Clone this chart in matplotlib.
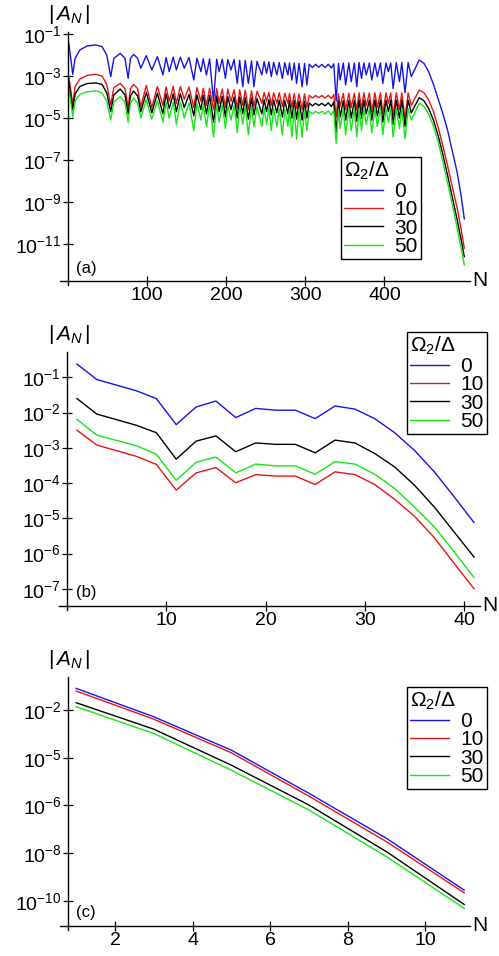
import numpy as np
import matplotlib
matplotlib.use('Agg')
import matplotlib.pyplot as plt

plt.rcParams['font.family'] = ['Liberation Sans', 'DejaVu Sans']
plt.rcParams['mathtext.fontset'] = 'custom'
plt.rcParams['mathtext.rm'] = 'Liberation Sans'
plt.rcParams['mathtext.it'] = 'Liberation Sans:italic'
plt.rcParams['mathtext.bf'] = 'Liberation Sans:bold'

W, H = 499, 956

series_labels = ['0', '10', '30', '50']
series_colors = ['#1515e6', '#e61515', '#000000', '#15e615']

# ---------------- panel (a): log10|A_N| ----------------
n_a = [1, 6, 9, 15, 24, 35, 43, 49, 54, 58, 66, 72, 76, 79, 83, 88, 92, 99, 106, 113,
       120, 124, 128, 133, 137, 142, 147, 153, 159, 163, 168, 171, 175, 179, 184, 188, 191, 195, 199, 202,
       206, 210, 214, 217, 221, 224, 228, 232, 235, 239,
       245, 248, 251, 254, 257, 260, 264, 267, 271, 274, 278, 280, 283, 286, 289, 292, 296, 299, 302, 305,
       309, 313, 317, 321, 325, 329, 333, 336, 339, 342, 344, 348, 351, 355, 358, 362, 365, 368,
       371, 374, 377, 381, 384, 388, 391, 395, 398, 402, 405, 408, 411, 415, 419, 422, 426, 430, 434,
       444, 450, 456, 462, 468, 474, 480, 486, 492, 497, 501]

loga_0 = [-1.44, -2.92, -2.16, -1.76, -1.57, -1.52, -1.60, -2.00, -3.03, -2.16, -1.92, -2.16, -3.11, -2.16, -1.97, -2.16, -2.63, -2.03, -2.71, -2.08,
          -2.95, -2.12, -2.79, -2.10, -2.71, -2.10, -2.63, -2.12, -3.19, -2.15, -2.79, -2.18, -2.95, -2.18, -4.20, -2.20, -2.79, -2.20, -3.11, -2.22,
          -2.71, -2.22, -3.35, -2.25, -3.51, -2.25, -3.35, -2.28, -3.51, -2.30,
          -2.95, -2.32, -2.87, -2.33, -3.03, -2.35, -2.95, -2.36, -3.11, -2.37, -2.95, -2.38, -3.19, -2.38, -3.35, -2.40, -3.51, -2.40, -3.43, -2.44,
          -2.60, -2.44, -2.58, -2.45, -2.60, -2.44, -2.62, -2.42, -4.20, -2.40, -3.19, -2.38, -3.43, -2.38, -3.27, -2.38, -3.51, -2.36,
          -3.11, -2.38, -2.95, -2.38, -3.19, -2.38, -3.03, -2.38, -3.35, -2.38, -2.79, -2.38, -3.60, -2.36, -3.27, -2.36, -3.80, -2.36, -3.03,
          -2.24, -2.40, -2.80, -3.40, -4.10, -4.80, -5.60, -6.60, -7.60, -8.70, -9.80]

loga_10 = [-3.03, -4.35, -3.50, -3.15, -2.97, -2.92, -3.00, -3.40, -4.38, -3.55, -3.35, -3.60, -4.50, -3.60, -3.40, -3.60, -4.45, -3.45, -4.50, -3.50,
           -4.40, -3.52, -4.20, -3.50, -4.30, -3.50, -4.10, -3.52, -4.50, -3.55, -4.20, -3.58, -4.40, -3.58, -4.60, -3.60, -4.30, -3.62, -4.50, -3.62,
           -4.20, -3.65, -4.55, -3.65, -4.40, -3.68, -4.60, -3.70, -4.45, -3.72,
           -4.30, -3.78, -4.20, -3.78, -4.40, -3.80, -4.30, -3.80, -4.45, -3.82, -4.30, -3.82, -4.50, -3.83, -4.55, -3.85, -4.60, -3.85, -4.50, -3.92,
           -4.05, -3.93, -4.03, -3.93, -4.05, -3.92, -4.08, -3.88, -4.95, -3.85, -4.45, -3.83, -4.60, -3.82, -4.50, -3.82, -4.65, -3.80,
           -4.60, -3.80, -4.40, -3.80, -4.70, -3.80, -4.50, -3.80, -4.80, -3.80, -4.30, -3.80, -4.90, -3.80, -4.60, -3.80, -5.00, -3.80, -4.40,
           -3.67, -3.80, -4.15, -4.70, -5.45, -6.35, -7.30, -8.30, -9.30, -10.30, -11.20]

loga_30 = [-3.27, -4.62, -3.85, -3.50, -3.36, -3.33, -3.40, -3.80, -4.70, -3.90, -3.62, -3.90, -4.80, -3.95, -3.72, -3.95, -4.70, -3.78, -4.75, -3.82,
           -4.80, -3.85, -4.55, -3.85, -4.70, -3.85, -4.50, -3.88, -4.90, -3.90, -4.60, -3.92, -4.80, -3.93, -5.20, -3.95, -4.70, -3.97, -4.95, -3.98,
           -4.60, -4.00, -5.00, -4.00, -4.80, -4.03, -5.05, -4.05, -4.85, -4.07,
           -4.80, -4.13, -4.70, -4.13, -4.85, -4.15, -4.75, -4.15, -4.95, -4.17, -4.80, -4.17, -5.00, -4.18, -5.05, -4.20, -5.10, -4.20, -5.00, -4.28,
           -4.42, -4.30, -4.40, -4.30, -4.42, -4.28, -4.45, -4.24, -5.70, -4.20, -4.95, -4.18, -5.10, -4.17, -5.00, -4.17, -5.15, -4.15,
           -5.00, -4.15, -4.80, -4.15, -5.10, -4.15, -4.90, -4.15, -5.20, -4.15, -4.70, -4.15, -5.30, -4.15, -5.00, -4.15, -5.40, -4.15, -4.75,
           -4.03, -4.18, -4.55, -5.10, -5.85, -6.75, -7.75, -8.80, -9.85, -10.80, -11.60]

loga_50 = [-3.59, -4.95, -4.20, -3.88, -3.75, -3.71, -3.80, -4.20, -5.10, -4.25, -3.98, -4.25, -5.20, -4.30, -4.05, -4.30, -5.00, -4.12, -5.05, -4.18,
           -5.20, -4.25, -5.00, -4.25, -5.30, -4.25, -5.00, -4.28, -5.60, -4.30, -5.10, -4.32, -5.40, -4.33, -5.90, -4.35, -5.20, -4.37, -5.50, -4.38,
           -5.10, -4.40, -5.70, -4.40, -5.30, -4.43, -5.80, -4.45, -5.40, -4.47,
           -5.40, -4.52, -5.30, -4.52, -5.60, -4.55, -5.40, -4.55, -5.80, -4.57, -5.40, -4.57, -5.90, -4.58, -6.00, -4.60, -5.90, -4.60, -5.60, -4.66,
           -4.80, -4.68, -4.78, -4.68, -4.80, -4.66, -4.85, -4.62, -6.20, -4.58, -5.50, -4.57, -5.80, -4.56, -5.60, -4.56, -5.90, -4.54,
           -5.60, -4.55, -5.30, -4.55, -5.70, -4.55, -5.40, -4.55, -5.80, -4.55, -5.20, -4.55, -5.90, -4.55, -5.50, -4.55, -6.00, -4.55, -5.10,
           -4.30, -4.45, -4.82, -5.38, -6.15, -7.08, -8.10, -9.15, -10.25, -11.20, -12.00]

# ---------------- panel (b) ----------------
n_b = [1, 3, 5, 7, 9, 11, 13, 15, 17, 19, 21, 23, 25, 27, 29, 31, 33, 35, 37, 39, 41]
logb_0 = [-0.62, -1.06, -1.22, -1.38, -1.60, -2.34, -1.84, -1.67, -2.14, -1.88, -1.93,
          -1.93, -2.17, -1.81, -1.90, -2.17, -2.57, -3.07, -3.68, -4.39, -5.12]
logb_10 = [-2.50, -2.92, -3.08, -3.24, -3.47, -4.20, -3.71, -3.56, -3.99, -3.76, -3.80,
           -3.80, -4.04, -3.68, -3.76, -4.04, -4.46, -4.94, -5.55, -6.28, -7.00]
logb_30 = [-1.60, -2.04, -2.20, -2.36, -2.57, -3.32, -2.81, -2.66, -3.11, -2.86, -2.90,
           -2.90, -3.14, -2.78, -2.86, -3.16, -3.54, -4.06, -4.68, -5.39, -6.10]
logb_50 = [-2.19, -2.64, -2.79, -2.94, -3.18, -3.92, -3.41, -3.26, -3.71, -3.46, -3.51,
           -3.51, -3.75, -3.39, -3.46, -3.75, -4.15, -4.68, -5.24, -5.95, -6.68]

# ---------------- panel (c) ----------------
n_c = [1, 3, 5, 7, 9, 11]
logc_0 = [-1.09, -2.28, -3.68, -5.49, -7.38, -9.55]
logc_10 = [-1.20, -2.38, -3.79, -5.61, -7.52, -9.66]
logc_30 = [-1.69, -2.80, -4.31, -5.98, -7.94, -10.15]
logc_50 = [-1.86, -2.98, -4.52, -6.19, -8.15, -10.31]

# tick values / labels as printed
xt_a = [100, 200, 300, 400]
yt_a = [-1, -3, -5, -7, -9, -11]
xt_b = [10, 20, 30, 40]
yt_b = [-1, -2, -3, -4, -5, -6, -7]
xt_c = [2, 4, 6, 8, 10]
yt_c = [-2, -4, -6, -8, -10]
ytl_c = ['-2', '-5', '-6', '-8', '-10']


def fx(px):
    return px / W


def fy(py):
    return 1 - py / H


def panel(box, xlim, ylim, n, logs, xt, yt, ytl, tag, leg_xy):
    left, right, top, bottom = box
    ax = fig.add_axes([fx(left), fy(bottom), (right - left) / W, (bottom - top) / H])
    for lg, c, lab in zip(logs, series_colors, series_labels):
        ax.plot(n, np.power(10.0, lg), color=c, lw=1.0, label=lab)
    ax.set_yscale('log')
    ax.set_xlim(*xlim)
    ax.set_ylim(10.0 ** ylim[0], 10.0 ** ylim[1])
    ax.set_xticks(xt)
    ax.set_xticklabels([str(v) for v in xt])
    ax.set_yticks([10.0 ** v for v in yt])
    ax.set_yticklabels([r'$10^{%s}$' % s for s in ytl])
    ax.minorticks_off()
    ax.yaxis.set_minor_locator(matplotlib.ticker.NullLocator())
    ax.tick_params(direction='inout', length=7, width=0.9, labelsize=14, pad=1,
                   top=False, right=False)
    for s in ax.spines.values():
        s.set_visible(False)
    ax.patch.set_visible(False)
    # axis lines that cross at the origin
    w = right - left
    h = bottom - top
    ax.plot([0, 0], [-4.0 / h, 1], transform=ax.transAxes, color='black', lw=1.0, clip_on=False)
    ax.plot([-8.0 / w, 1], [0, 0], transform=ax.transAxes, color='black', lw=1.0, clip_on=False)
    fig.text(fx(right + 10), fy(bottom), 'N', fontsize=15, ha='center', va='center')
    fig.text(fx(69), fy(top - 17), r'$|\,A_N\,|$', fontsize=15, ha='center', va='center')
    fig.text(fx(76), fy(bottom - 13), tag, fontsize=12, ha='left', va='center')
    leg = ax.legend(loc='upper left', bbox_to_anchor=(fx(leg_xy[0]), fy(leg_xy[1])),
                    bbox_transform=fig.transFigure, title=r'$\Omega_2/\Delta$',
                    fontsize=15, title_fontsize=15, frameon=True, fancybox=False,
                    edgecolor='black', framealpha=1, borderpad=0.15, borderaxespad=0,
                    handlelength=1.85, handletextpad=0.55, labelspacing=-0.03,
                    alignment='left')
    leg.get_frame().set_linewidth(1.0)
    return ax


fig = plt.figure(figsize=(W / 100, H / 100), dpi=100)

panel((68, 470, 32, 281), (0, 508.2), (-12.76, -0.905), n_a,
      [loga_0, loga_10, loga_30, loga_50], xt_a, yt_a, [str(v) for v in yt_a], '(a)', (341, 157))
panel((67, 480, 351.7, 605.7), (0, 41.6), (-7.48, -0.27), n_b,
      [logb_0, logb_10, logb_30, logb_50], xt_b, yt_b, [str(v) for v in yt_b], '(b)', (407, 332))
panel((68, 470, 676.7, 925.7), (0.79, 11.15), (-11.04, -0.6), n_c,
      [logc_0, logc_10, logc_30, logc_50], xt_c, yt_c, ytl_c, '(c)', (407, 687))

fig.savefig('out.png', dpi=100)
